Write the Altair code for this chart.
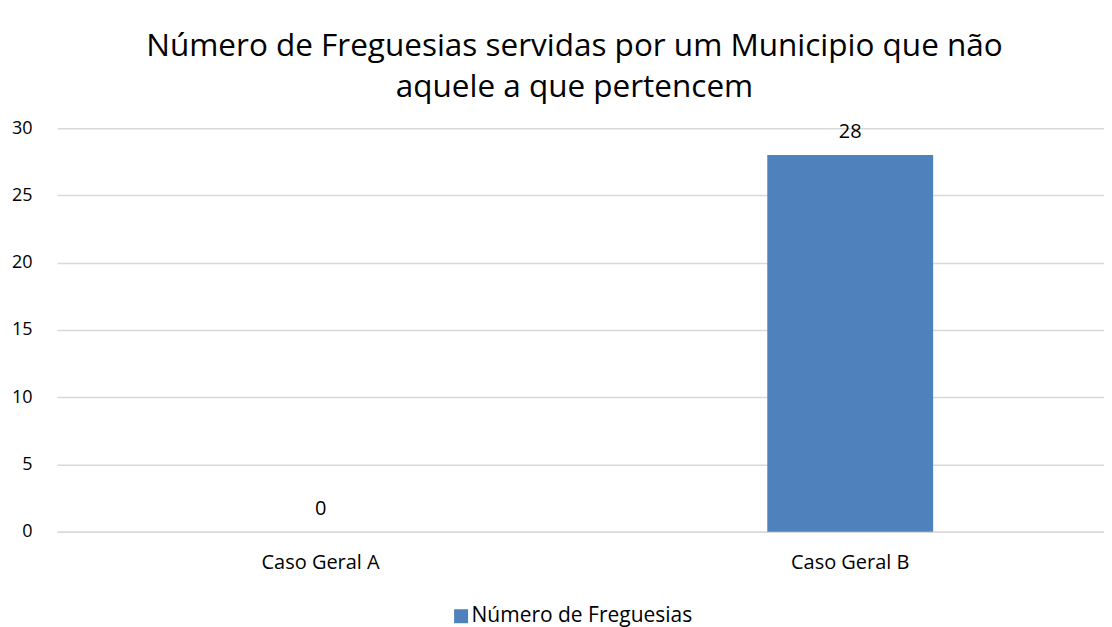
import altair as alt
import pandas as pd

categories = ["Caso Geral A", "Caso Geral B"]
values = [0, 28]
series = ["Número de Freguesias", "Número de Freguesias"]

df = pd.DataFrame({"caso": categories, "valor": values, "serie": series})

FONT = "Open Sans"

x_enc = alt.X(
    "caso:N",
    sort=categories,
    title=None,
    scale=alt.Scale(paddingInner=0.687, paddingOuter=0.332, align=0.514),
    axis=alt.Axis(labelAngle=0, ticks=False, domain=True, domainColor="#D9D9D9",
                  domainWidth=1.5, labelPadding=21, labelFontSize=20,
                  labelFont=FONT, labelColor="#000000"),
)
y_enc = alt.Y(
    "valor:Q",
    title=None,
    scale=alt.Scale(domain=[0, 30]),
    axis=alt.Axis(values=[0, 5, 10, 15, 20, 25, 30], ticks=False, domain=False,
                  grid=True, gridColor="#D9D9D9", gridWidth=1.5, labelPadding=25,
                  labelFontSize=18, labelFont=FONT, labelColor="#000000"),
)

bars = alt.Chart(df).mark_bar(size=166).encode(
    x=x_enc,
    y=y_enc,
    color=alt.Color(
        "serie:N",
        title=None,
        scale=alt.Scale(domain=["Número de Freguesias"], range=["#4F81BD"]),
        legend=alt.Legend(orient="none", legendX=394, legendY=478, direction="horizontal",
                          symbolType="square", symbolSize=196, symbolStrokeWidth=0,
                          labelFontSize=21, labelFont=FONT, labelColor="#000000",
                          labelOffset=0, labelLimit=500),
    ),
)

labels = alt.Chart(df).mark_text(dy=-23, baseline="middle", fontSize=20, font=FONT,
                                 color="#000000").encode(
    x=alt.X("caso:N", sort=categories),
    y=alt.Y("valor:Q"),
    text=alt.Text("valor:Q"),
)

chart = (bars + labels).properties(
    width=1048,
    height=404,
    autosize=alt.AutoSizeParams(type="none"),
    padding={"left": 49, "top": 120, "right": 0, "bottom": 95},
    title=alt.Title(
        ["Número de Freguesias servidas por um Municipio que não", "aquele a que pertencem"],
        font=FONT, fontSize=31.5, fontWeight="normal", color="#000000",
        anchor="middle", dx=-6, offset=16, lineHeight=41,
    ),
).configure_view(stroke=None)

chart.save("out.html", embed_options={"renderer": "svg", "actions": False})
